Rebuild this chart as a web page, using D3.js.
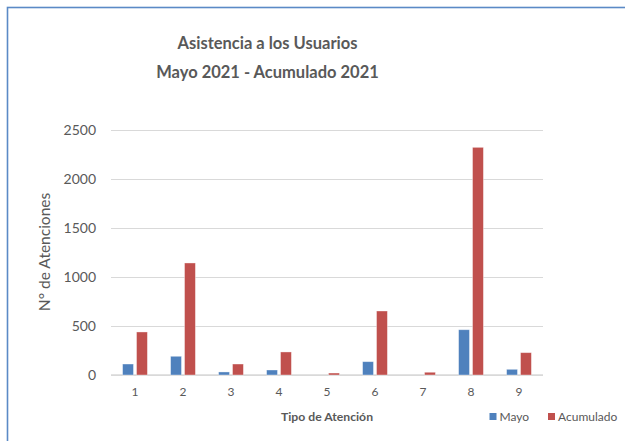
<!DOCTYPE html>
<html>
<head>
<meta charset="utf-8">
<script src="https://cdn.jsdelivr.net/npm/d3@7"></script>
<style>
  html, body { margin: 0; padding: 0; background: #fff; }
  svg { display: block; }
</style>
</head>
<body>
<div id="chart"></div>
<script>
// datos
const categories = ['1', '2', '3', '4', '5', '6', '7', '8', '9'];
const seriesNames = ['Mayo', 'Acumulado'];
const mayo = [112, 191, 31, 51, 0, 136, 0, 462, 58];
const acumulado = [439, 1143, 112, 235, 20, 653, 28, 2323, 228];
const yTicks = [0, 500, 1000, 1500, 2000, 2500];
const colors = ['#4f81bd', '#c0504d'];

const width = 625, height = 441;
const plot = { left: 111, right: 543, top: 130, bottom: 375 };
const font = 'Lato, Liberation Sans, sans-serif';

const svg = d3.select('#chart').append('svg')
  .attr('width', width)
  .attr('height', height);

// marco del gráfico
svg.append('rect')
  .attr('x', 7.5).attr('y', 7.5)
  .attr('width', 700).attr('height', 500)
  .attr('fill', 'none')
  .attr('stroke', '#5b8ac6')
  .attr('stroke-width', 1.6);

// títulos
const title = svg.append('text')
  .attr('text-anchor', 'middle')
  .attr('font-family', font)
  .attr('font-weight', 'bold')
  .attr('font-size', 16.5)
  .attr('fill', '#595959');
title.append('tspan').attr('x', 267.5).attr('y', 49).text('Asistencia a los Usuarios');
title.append('tspan').attr('x', 267.5).attr('y', 78).text('Mayo 2021 - Acumulado 2021');

const x = d3.scaleBand()
  .domain(categories)
  .range([plot.left, plot.right]);

const xInner = d3.scaleBand()
  .domain(seriesNames)
  .range([-12.4, 12.4])
  .paddingInner(0.22);

const y = d3.scaleLinear()
  .domain([0, 2500])
  .range([plot.bottom, plot.top]);

// líneas de división
const yAxis = svg.append('g')
  .attr('transform', `translate(${plot.left},0)`)
  .call(d3.axisLeft(y).tickValues(yTicks).tickFormat(d3.format('d'))
    .tickSize(-(plot.right - plot.left)).tickPadding(15));
yAxis.select('.domain').remove();
yAxis.selectAll('.tick line').attr('stroke', '#d9d9d9').attr('stroke-width', 1);
yAxis.selectAll('.tick text')
  .attr('font-family', font)
  .attr('font-size', 14)
  .attr('fill', '#595959');

// eje horizontal
svg.append('line')
  .attr('x1', plot.left).attr('x2', plot.right)
  .attr('y1', y(0)).attr('y2', y(0))
  .attr('stroke', '#d9d9d9').attr('stroke-width', 1.5);

const xAxis = svg.append('g')
  .attr('transform', `translate(0,${plot.bottom})`)
  .call(d3.axisBottom(x).tickSize(0).tickPadding(12));
xAxis.select('.domain').remove();
xAxis.selectAll('.tick text')
  .attr('font-family', font)
  .attr('font-size', 12)
  .attr('fill', '#595959');

// barras
const rows = categories.map((c, i) => ({ cat: c, values: [mayo[i], acumulado[i]] }));
const groups = svg.append('g').selectAll('g')
  .data(rows)
  .enter()
  .append('g')
  .attr('transform', d => `translate(${x(d.cat) + x.bandwidth() / 2},0)`);

groups.selectAll('rect')
  .data(d => d.values.map((v, j) => ({ name: seriesNames[j], value: v, j })))
  .enter()
  .append('rect')
  .attr('x', d => xInner(d.name))
  .attr('width', xInner.bandwidth())
  .attr('y', d => y(d.value))
  .attr('height', d => y(0) - y(d.value))
  .attr('fill', d => colors[d.j])
  .attr('stroke', 'rgba(255,255,255,0.45)')
  .attr('stroke-width', 0.8);

// títulos de ejes
svg.append('text')
  .attr('transform', `translate(50,252) rotate(-90)`)
  .attr('text-anchor', 'middle')
  .attr('font-family', font)
  .attr('font-size', 15.5)
  .attr('fill', '#595959')
  .text('N°  de Atenciones');

svg.append('text')
  .attr('x', (plot.left + plot.right) / 2)
  .attr('y', 421)
  .attr('text-anchor', 'middle')
  .attr('font-family', font)
  .attr('font-weight', 'bold')
  .attr('font-size', 12.2)
  .attr('fill', '#595959')
  .text('Tipo de Atención');

// leyenda
const legendX = [489.5, 548];
const legend = svg.append('g').selectAll('g')
  .data(seriesNames)
  .enter()
  .append('g')
  .attr('transform', (d, i) => `translate(${legendX[i]},413)`);
legend.append('rect')
  .attr('width', 7).attr('height', 7)
  .attr('fill', (d, i) => colors[i]);
legend.append('text')
  .attr('x', 10).attr('y', 8)
  .attr('font-family', font)
  .attr('font-size', 12)
  .attr('fill', '#595959')
  .text(d => d);
</script>
</body>
</html>
